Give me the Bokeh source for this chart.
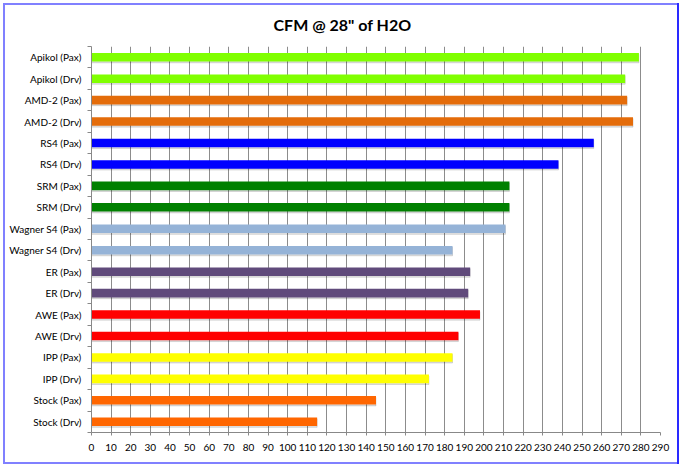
from bokeh.plotting import figure
from bokeh.models import FixedTicker, ColumnDataSource, Range1d
from bokeh.transform import dodge
from bokeh.embed import file_html
from bokeh.resources import INLINE

categories = ["Apikol (Pax)", "Apikol (Drv)", "AMD-2 (Pax)", "AMD-2 (Drv)",
              "RS4 (Pax)", "RS4 (Drv)", "SRM (Pax)", "SRM (Drv)",
              "Wagner S4 (Pax)", "Wagner S4 (Drv)", "ER (Pax)", "ER (Drv)",
              "AWE (Pax)", "AWE (Drv)", "IPP (Pax)", "IPP (Drv)",
              "Stock (Pax)", "Stock (Drv)"]
cfm = [279, 272, 273, 276, 256, 238, 213, 213, 211, 184,
       193, 192, 198, 187, 184, 172, 145, 115]
bar_colors = ["#80FF00", "#80FF00", "#E46C0A", "#E46C0A", "#0000FF", "#0000FF",
              "#008000", "#008000", "#95B3D7", "#95B3D7", "#604A7B", "#604A7B",
              "#FF0000", "#FF0000", "#FFFF00", "#FFFF00", "#FF6600", "#FF6600"]
x_ticks = list(range(0, 300, 10))

n = len(categories)
ypos = [n - i - 0.5 for i in range(n)]
src = ColumnDataSource(dict(y=ypos, cfm=cfm, color=bar_colors, name=categories))

FONT = "Lato"

p = figure(width=682, height=467, x_range=Range1d(0, 290), y_range=Range1d(0, n),
           output_backend="svg", toolbar_location=None,
           min_border_left=91, min_border_right=22, min_border_top=45, min_border_bottom=35,
           title='CFM @ 28" of H2O',
           styles={"background-color": "white",
                   "box-shadow": ("inset 0 0 0 3px white, inset -5px 0 0 0 #2A2AFF, "
                                  "inset 0 0 0 5px #8080FF")})
p.outline_line_color = None
p.background_fill_color = "white"
p.border_fill_color = None

p.title.align = "left"
p.title.text_font = FONT
p.title.text_font_size = "16px"
p.title.text_font_style = "bold"
p.title.text_color = "#000000"
p.title.offset = 182
if "standoff" in p.title.properties():
    p.title.standoff = 25

# shadow + bars
p.hbar(y=dodge("y", -0.06, range=p.y_range), right="cfm", left=0, height=0.4,
       source=src, color="#000000", alpha=0.12)
p.hbar(y="y", right="cfm", left=0, height=0.4, source=src,
       fill_color="color", line_color=None)

xa = p.xaxis[0]
xa.ticker = FixedTicker(ticks=x_ticks)
xa.major_tick_in = 0
xa.major_tick_out = 3
xa.minor_tick_line_color = None
xa.axis_line_color = "#888888"
xa.major_tick_line_color = "#888888"
xa.major_label_text_font = FONT
xa.major_label_text_font_size = "10px"
xa.major_label_text_color = "#000000"
xa.major_label_standoff = 8

ya = p.yaxis[0]
ya.ticker = FixedTicker(ticks=ypos, minor_ticks=list(range(n + 1)))
ya.major_label_overrides = {y: name for y, name in zip(ypos, categories)}
ya.major_tick_line_color = None
ya.major_tick_in = 0
ya.major_tick_out = 4
ya.minor_tick_in = 0
ya.minor_tick_out = 4
ya.minor_tick_line_color = "#888888"
ya.axis_line_color = "#888888"
ya.major_label_text_font = FONT
ya.major_label_text_font_size = "10px"
ya.major_label_text_color = "#000000"
ya.major_label_standoff = 6

p.xgrid.ticker = FixedTicker(ticks=x_ticks)
p.xgrid.grid_line_color = "#8c8c8c"
p.ygrid.grid_line_color = None

open("out.html", "w").write(file_html(p, INLINE))
